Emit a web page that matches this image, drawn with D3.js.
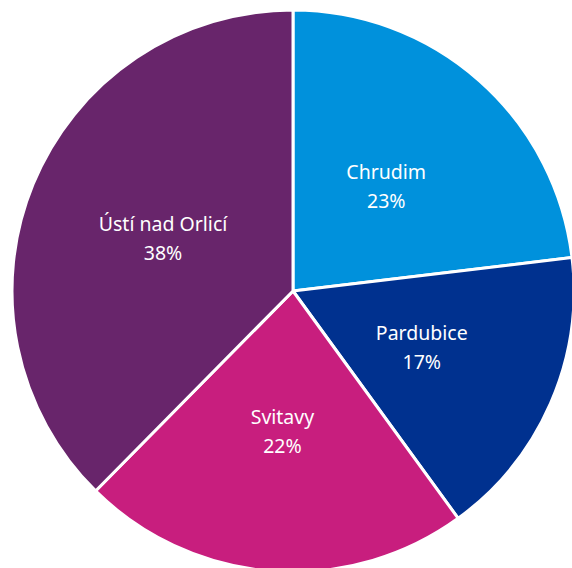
<!DOCTYPE html>
<html>
<head>
<meta charset="utf-8">
<script src="https://cdn.jsdelivr.net/npm/d3@7"></script>
<style>
  html, body { margin: 0; padding: 0; background: #ffffff; }
  svg { display: block; }
</style>
</head>
<body>
<svg id="chart" width="572" height="568"></svg>
<script>
const categories = ["Chrudim", "Pardubice", "Svitavy", "Ústí nad Orlicí"];
const values = [23.1, 16.9, 22.4, 37.6];
const percentLabels = ["23%", "17%", "22%", "38%"];
const colors = ["#0091DC", "#00318F", "#C81E7E", "#68256B"];

const width = 572, height = 568;
const cx = 293, cy = 291, radius = 281;

const svg = d3.select("#chart");
const g = svg.append("g").attr("transform", `translate(${cx},${cy})`);

const data = categories.map((c, i) => ({ name: c, value: values[i], label: percentLabels[i], color: colors[i] }));

const pie = d3.pie().sort(null).value(d => d.value);
const arc = d3.arc().innerRadius(0).outerRadius(radius);
const labelArc = d3.arc().innerRadius(radius * 0.5).outerRadius(radius * 0.5);

const arcs = pie(data);

g.selectAll("path.slice")
  .data(arcs)
  .enter().append("path")
  .attr("class", "slice")
  .attr("d", arc)
  .attr("fill", d => d.data.color)
  .attr("stroke", "#ffffff")
  .attr("stroke-width", 3)
  .attr("stroke-linejoin", "round");

const labels = g.selectAll("g.label")
  .data(arcs)
  .enter().append("g")
  .attr("class", "label")
  .attr("transform", d => { const [x, y] = labelArc.centroid(d); return `translate(${x},${y})`; });

labels.append("text")
  .attr("text-anchor", "middle")
  .attr("y", -7)
  .attr("fill", "#ffffff")
  .style("font-family", "'Noto Sans', 'Open Sans', sans-serif")
  .style("font-size", "19.5px")
  .text(d => d.data.name);

labels.append("text")
  .attr("text-anchor", "middle")
  .attr("y", 22)
  .attr("fill", "#ffffff")
  .style("font-family", "'Noto Sans', 'Open Sans', sans-serif")
  .style("font-size", "19.5px")
  .text(d => d.data.label);
</script>
</body>
</html>
